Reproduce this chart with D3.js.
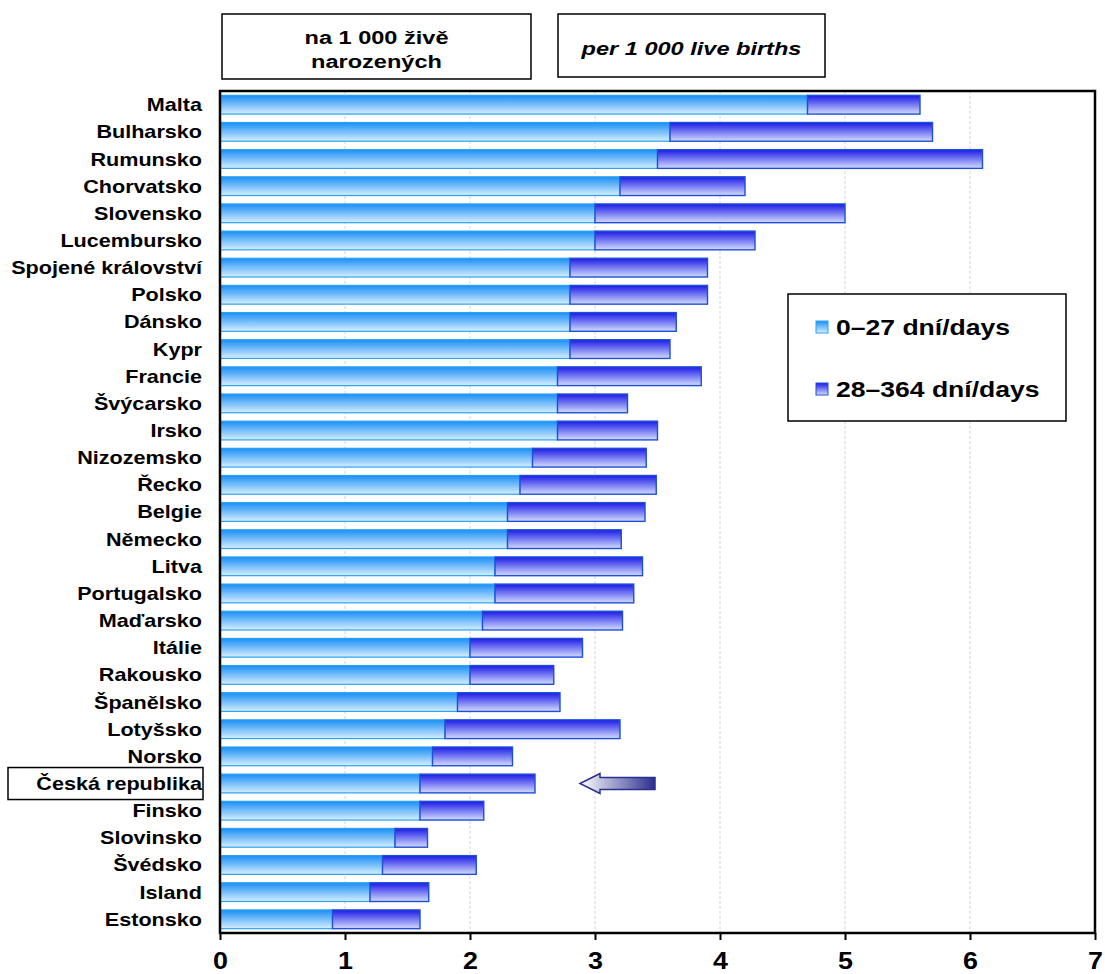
<!DOCTYPE html>
<html>
<head>
<meta charset="utf-8">
<script src="https://cdn.jsdelivr.net/npm/d3@7"></script>
<style>
  body { margin: 0; background: #fff; }
  text { font-family: "Liberation Sans", Arial, sans-serif; font-weight: bold; }
</style>
</head>
<body>
<svg id="chart"></svg>
<script>
// countries, top to bottom
const countries = ["Malta","Bulharsko","Rumunsko","Chorvatsko","Slovensko","Lucembursko",
  "Spojené království","Polsko","Dánsko","Kypr","Francie","Švýcarsko","Irsko","Nizozemsko",
  "Řecko","Belgie","Německo","Litva","Portugalsko","Maďarsko","Itálie","Rakousko",
  "Španělsko","Lotyšsko","Norsko","Česká republika","Finsko","Slovinsko","Švédsko",
  "Island","Estonsko"];

// 0-27 days
const neonatal = [4.7,3.6,3.5,3.2,3.0,3.0,2.8,2.8,2.8,2.8,2.7,2.7,2.7,2.5,2.4,2.3,2.3,
  2.2,2.2,2.1,2.0,2.0,1.9,1.8,1.7,1.6,1.6,1.4,1.3,1.2,0.9];
// 28-364 days
const postneonatal = [0.9,2.1,2.6,1.0,2.0,1.28,1.1,1.1,0.85,0.8,1.15,0.56,0.8,0.91,1.09,
  1.1,0.91,1.18,1.11,1.12,0.9,0.67,0.82,1.4,0.64,0.92,0.51,0.26,0.75,0.47,0.7];

const xTicks = [0,1,2,3,4,5,6,7];
const seriesNames = ["0–27 dní/days", "28–364 dní/days"];
const highlight = "Česká republika";

const width = 1105, height = 974;
const margin = {top: 91, right: 10, bottom: 41, left: 220};
const bodyWidth = width - margin.left - margin.right,
      bodyHeight = height - margin.top - margin.bottom;

const svg = d3.select("#chart").attr("width", width).attr("height", height);

const defs = svg.append("defs");
function vgrad(id, top, bottom) {
  const g = defs.append("linearGradient").attr("id", id)
    .attr("x1", 0).attr("y1", 0).attr("x2", 0).attr("y2", 1);
  g.append("stop").attr("offset", "0%").attr("stop-color", top);
  g.append("stop").attr("offset", "100%").attr("stop-color", bottom);
}
vgrad("g0", "#1a8ef5", "#d6efff");
vgrad("g1", "#1a1ae6", "#d4dcff");
const ag = defs.append("linearGradient").attr("id", "arrowGrad")
  .attr("x1", 0).attr("y1", 0).attr("x2", 1).attr("y2", 0);
ag.append("stop").attr("offset", "0%").attr("stop-color", "#ffffff");
ag.append("stop").attr("offset", "100%").attr("stop-color", "#2b2f8f");

const x = d3.scaleLinear().domain([0, 7]).range([0, bodyWidth]);
const y = d3.scaleBand().domain(countries).range([0, bodyHeight]).paddingInner(0.31).paddingOuter(0.16);

const body = svg.append("g").attr("transform", `translate(${margin.left},${margin.top})`);

// grid
body.selectAll(".grid").data(xTicks.slice(1, -1)).enter().append("line")
  .attr("x1", d => x(d)).attr("x2", d => x(d))
  .attr("y1", 0).attr("y2", bodyHeight)
  .attr("stroke", "#d4d4d4").attr("stroke-dasharray", "3,2");

// stacked bars
const rows = countries.map((c, i) => ({c, a: neonatal[i], b: postneonatal[i]}));
body.selectAll(".b0").data(rows).enter().append("rect")
  .attr("x", 0).attr("y", d => y(d.c))
  .attr("width", d => x(d.a)).attr("height", y.bandwidth())
  .attr("fill", "url(#g0)").attr("stroke", "#2aa3f0").attr("stroke-width", 1.2);
body.selectAll(".b1").data(rows).enter().append("rect")
  .attr("x", d => x(d.a)).attr("y", d => y(d.c))
  .attr("width", d => x(d.a + d.b) - x(d.a)).attr("height", y.bandwidth())
  .attr("fill", "url(#g1)").attr("stroke", "#1e4fd6").attr("stroke-width", 1.4);

// frame
body.append("rect").attr("x", 0).attr("y", 0).attr("width", bodyWidth).attr("height", bodyHeight)
  .attr("fill", "none").attr("stroke", "#000").attr("stroke-width", 2.5);

// x axis
const xAxis = body.append("g").attr("transform", `translate(0,${bodyHeight})`)
  .call(d3.axisBottom(x).tickValues(xTicks).tickSize(7).tickPadding(12).tickFormat(d3.format("d")));
xAxis.select(".domain").remove();
xAxis.selectAll("line").attr("stroke", "#000").attr("stroke-width", 2);
xAxis.selectAll("text").style("font-size", "24px").attr("fill", "#000")
  .attr("transform", "scale(1.12,1)");

// category labels (the original type is set wide)
body.selectAll(".lab").data(countries).enter().append("text")
  .attr("transform", d => `translate(-18,${y(d) + y.bandwidth() / 2}) scale(1.2,1)`)
  .attr("dy", "0.36em").attr("text-anchor", "end")
  .style("font-size", "18px").text(d => d);

// box around highlighted label
body.append("rect")
  .attr("x", 8 - margin.left).attr("y", y(highlight) + y.bandwidth() / 2 - 16)
  .attr("width", 195).attr("height", 32)
  .attr("fill", "none").attr("stroke", "#000").attr("stroke-width", 1.5);

// arrow pointing at the highlighted row
const ay = y(highlight) + y.bandwidth() / 2;
const ax0 = x(2.88), ax1 = x(3.48);
body.append("path")
  .attr("d", `M${ax0},${ay} L${ax0 + 20},${ay - 10} L${ax0 + 20},${ay - 6} L${ax1},${ay - 6}
    L${ax1},${ay + 6} L${ax0 + 20},${ay + 6} L${ax0 + 20},${ay + 10} Z`)
  .attr("fill", "url(#arrowGrad)").attr("stroke", "#2b2f8f").attr("stroke-width", 1.5);

// header boxes
function headerBox(x0, y0, w, h, lines, italic) {
  svg.append("rect").attr("x", x0).attr("y", y0).attr("width", w).attr("height", h)
    .attr("fill", "#fff").attr("stroke", "#000").attr("stroke-width", 1.5);
  const t = svg.append("text").attr("text-anchor", "middle").style("font-size", "19px")
    .style("font-style", italic ? "italic" : "normal")
    .attr("transform", `translate(${x0 + w / 2},0) scale(1.24,1)`);
  const lh = 24, start = y0 + h / 2 + 2.5 - (lines.length - 1) * lh / 2;
  lines.forEach((l, i) => t.append("tspan").attr("x", 0).attr("y", start + i * lh)
    .attr("dy", "0.35em").text(l));
}
headerBox(222, 14, 309, 65, ["na 1 000 živě", "narozených"], false);
headerBox(558, 14, 267, 63, ["per 1 000 live births"], true);

// legend
const legend = svg.append("g");
legend.append("rect").attr("x", 788).attr("y", 294).attr("width", 278).attr("height", 127)
  .attr("fill", "#fff").attr("stroke", "#000").attr("stroke-width", 1.5);
seriesNames.forEach((s, i) => {
  const ly = 327 + i * 62;
  legend.append("rect").attr("x", 816).attr("y", ly - 6).attr("width", 12).attr("height", 12)
    .attr("fill", `url(#g${i})`).attr("stroke", i ? "#1e4fd6" : "#2aa3f0");
  legend.append("text").attr("transform", `translate(836,${ly}) scale(1.18,1)`).attr("dy", "0.36em")
    .style("font-size", "22.5px").text(s);
});
</script>
</body>
</html>
